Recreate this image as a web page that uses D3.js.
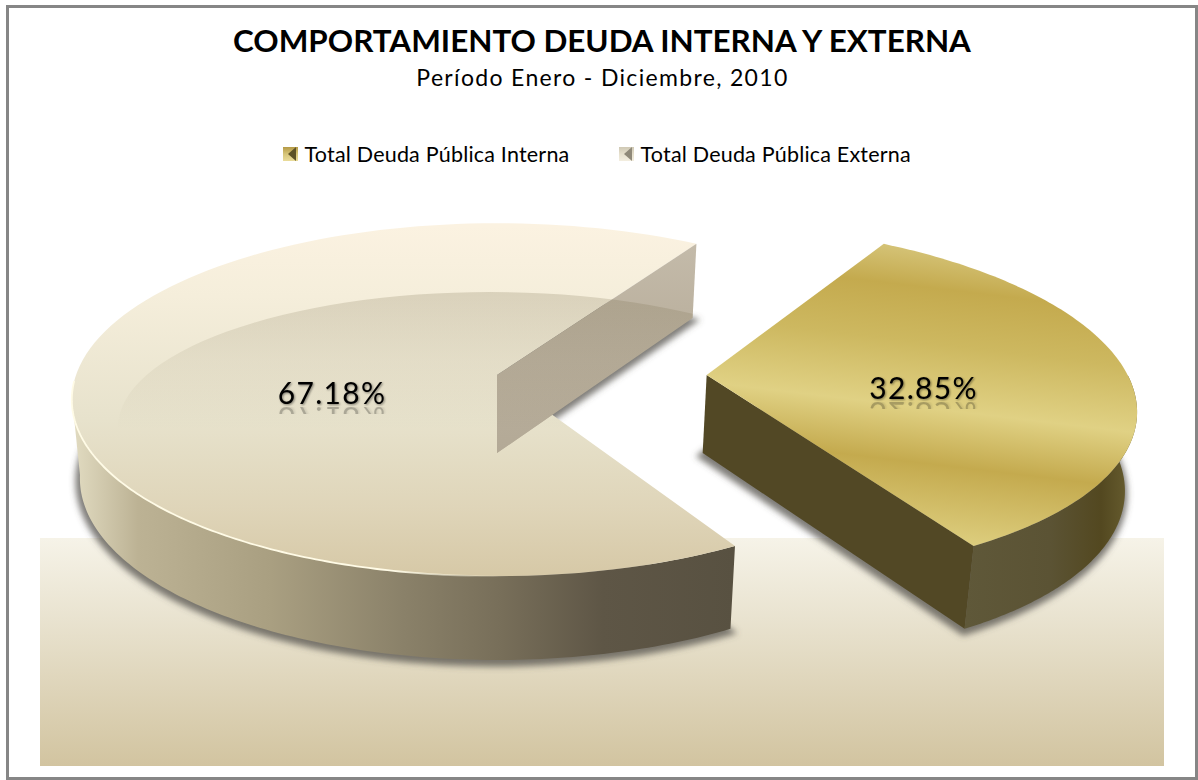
<!DOCTYPE html>
<html>
<head>
<meta charset="utf-8">
<style>
  html, body { margin: 0; padding: 0; background: #fff; }
  svg { display: block; }
  text { font-family: Lato, "Open Sans", sans-serif; fill: #000; }
</style>
<script src="https://cdn.jsdelivr.net/npm/d3@7"></script>
</head>
<body>
<script>
let width = 1198,
    height = 780;

// Chart data
const categories = ['Total Deuda Pública Interna', 'Total Deuda Pública Externa'];
const values = [32.85, 67.18];
const valueLabels = ['32.85%', '67.18%'];
const titleText = 'COMPORTAMIENTO DEUDA INTERNA Y EXTERNA';
const subtitleText = 'Período Enero - Diciembre, 2010';

const deg = Math.PI / 180;

// Pie angles, the internal debt slice starts at 32 deg
const pie = d3.pie().sort(null)
    .startAngle(32 * deg)
    .endAngle(32 * deg + 2 * Math.PI);
const slices = pie(values);
const gold = slices[0],
    big = slices[1];

// The disc is drawn in perspective, top and bottom planes have their own camera values
const topPlane = {cx: 497, cy: 375, r: 421, k: 173, p: 0.14};
const bottomPlane = {cx: 497, cy: 453, r: 413, k: 178, p: 0.14};
const explode = 0.498;

function project(plane, a, e) {
    const z = Math.cos(a),
        w = 1 + plane.p * z;
    return [plane.cx + plane.r * (Math.sin(a) + e) / w, plane.cy - plane.k * z / w];
}

function centre(plane, e) {
    return [plane.cx + plane.r * e, plane.cy];
}

function arcPoints(plane, a0, a1, e) {
    const n = 120;
    return d3.range(n + 1).map(i => project(plane, a0 + (a1 - a0) * i / n, e));
}

const line = d3.line();
const closed = pts => line(pts) + 'Z';

// Where two lines cross, needed for the small inner wall
function crossing(p1, p2, p3, p4) {
    const d = (p1[0] - p2[0]) * (p3[1] - p4[1]) - (p1[1] - p2[1]) * (p3[0] - p4[0]);
    const t = ((p1[0] - p3[0]) * (p3[1] - p4[1]) - (p1[1] - p3[1]) * (p3[0] - p4[0])) / d;
    return [p1[0] + t * (p2[0] - p1[0]), p1[1] + t * (p2[1] - p1[1])];
}

const svg = d3.select('body').append('svg')
    .attr('width', width)
    .attr('height', height);

const defs = svg.append('defs');

function gradient(id, coords, stops) {
    const g = defs.append('linearGradient')
        .attr('id', id)
        .attr('gradientUnits', 'userSpaceOnUse')
        .attr('x1', coords[0]).attr('y1', coords[1])
        .attr('x2', coords[2]).attr('y2', coords[3]);
    stops.forEach(function (s) {
        g.append('stop')
            .attr('offset', s[0])
            .attr('stop-color', s[1])
            .attr('stop-opacity', s.length > 2 ? s[2] : 1);
    });
}

function blur(id, amount) {
    defs.append('filter')
        .attr('id', id)
        .attr('x', '-20%').attr('y', '-20%')
        .attr('width', '140%').attr('height', '140%')
        .append('feGaussianBlur')
        .attr('stdDeviation', amount);
}

blur('blur3', 3);
blur('blurRim', 0.7);

// Soft shadow of the value labels
defs.append('filter')
    .attr('id', 'labelShadow')
    .attr('x', '-10%').attr('y', '-20%')
    .attr('width', '120%').attr('height', '140%')
    .append('feDropShadow')
    .attr('dx', 1).attr('dy', 1)
    .attr('stdDeviation', 1)
    .attr('flood-color', '#000')
    .attr('flood-opacity', 0.45);

gradient('floorFill', [0, 538, 0, 766], [[0, '#f6f3e8'], [0.35, '#e9e3d0'], [1, '#d2c4a0']]);
gradient('bigTop', [0, 226, 0, 578], [[0, '#fbf2e1'], [0.2, '#f5eedb'], [0.55, '#e7e2cc'], [0.8, '#dfd5b9'], [1, '#d6c8a6']]);
gradient('bigGlass', [0, 292, 0, 430], [[0, '#6b5f3c', 0.2], [0.5, '#6b5f3c', 0.08], [1, '#6b5f3c', 0]]);
gradient('bigWall', [72, 0, 735, 0], [[0, '#e2dcc2'], [0.1, '#bcb294'], [0.3, '#a99f81'], [0.5, '#8a8169'], [0.65, '#776e59'], [0.8, '#5e5646'], [1, '#585141']]);
gradient('farWall', [0, 240, 0, 455], [[0, '#c4bbaa'], [0.35, '#bcb2a0'], [1, '#b3a996']]);
gradient('goldTop', [919, 240, 883, 545], [
    [0, '#d8c87f'], [0.15, '#c4aa4e'], [0.33, '#cdb860'], [0.54, '#e0d184'],
    [0.72, '#c4aa4e'], [1, '#e0d284']
]);
gradient('goldWall', [965, 0, 1135, 0], [[0, '#5f5839'], [0.5, '#5b5334'], [0.8, '#534820'], [1, '#6b6132']]);
gradient('swatchGold', [0, 147, 0, 161], [[0, '#b59a45'], [0.5, '#d6c579'], [1, '#eadc9b']]);
gradient('swatchPale', [0, 147, 0, 161], [[0, '#cfc8b4'], [0.5, '#e6e0cd'], [1, '#f3eee0']]);
gradient('rimFade', [72, 0, 500, 0], [[0, '#fffbe6'], [0.75, '#fffbe6'], [1, '#fffbe6', 0]]);

// Frame
svg.append('rect')
    .attr('x', 7.5).attr('y', 6.5)
    .attr('width', width - 9).attr('height', height - 8)
    .attr('fill', '#fff')
    .attr('stroke', '#868686')
    .attr('stroke-width', 3);

// Floor
svg.append('rect')
    .attr('x', 40).attr('y', 538)
    .attr('width', 1124).attr('height', 228)
    .attr('fill', 'url(#floorFill)');

// Titles
svg.append('text')
    .attr('x', 602).attr('y', 51.5)
    .attr('text-anchor', 'middle')
    .attr('font-size', 31.4)
    .attr('font-weight', 700)
    .text(titleText);

svg.append('text')
    .attr('x', 602.5).attr('y', 86)
    .attr('text-anchor', 'middle')
    .attr('font-size', 23)
    .attr('letter-spacing', 1.33)
    .text(subtitleText);

// Legend
const legendX = [283, 619];
const legendFill = ['url(#swatchGold)', 'url(#swatchPale)'];
const legendMark = ['#5d5228', '#8f8979'];

const legend = svg.append('g').selectAll('g')
    .data(categories)
    .enter().append('g')
    .attr('transform', (d, i) => 'translate(' + legendX[i] + ',0)');

legend.append('rect')
    .attr('y', 147)
    .attr('width', 15).attr('height', 14)
    .attr('fill', (d, i) => legendFill[i]);

legend.append('path')
    .attr('d', 'M15,147 L7,154 L15,161 Z')
    .attr('fill', (d, i) => legendMark[i])
    .attr('transform', 'translate(-2,0)');

legend.append('text')
    .attr('x', 21.5).attr('y', 161.5)
    .attr('font-size', 21.5)
    .attr('letter-spacing', 0.2)
    .text(d => d);

// Shadows under both slices
const bigBottom = arcPoints(bottomPlane, big.startAngle, big.endAngle, 0);
const goldBottom = arcPoints(bottomPlane, gold.startAngle, gold.endAngle, explode);

svg.append('g')
    .attr('filter', 'url(#blur3)')
    .selectAll('path')
    .data([
        closed([centre(bottomPlane, 0)].concat(bigBottom)),
        closed([centre(bottomPlane, explode)].concat(goldBottom))
    ])
    .enter().append('path')
    .attr('d', d => d)
    .attr('transform', 'translate(-1,3)')
    .attr('fill', '#55524c')
    .attr('stroke', '#55524c')
    .attr('stroke-width', 7)
    .attr('opacity', 0.75);

// External debt slice
const bigTopArc = arcPoints(topPlane, big.startAngle, big.endAngle, 0);
const frontCorner = bigTopArc[0],
    farCorner = bigTopArc[bigTopArc.length - 1];
const farBottom = bigBottom[bigBottom.length - 1];
const apexTop = centre(topPlane, 0),
    apexBottom = centre(bottomPlane, 0);

svg.append('path')
    .attr('d', closed(arcPoints(topPlane, big.startAngle, 263 * deg, 0)
        .concat(arcPoints(bottomPlane, 263 * deg, big.startAngle, 0))))
    .attr('fill', 'url(#bigWall)');

const bigSurface = closed([apexTop].concat(bigTopArc));
const farWall = closed([apexTop, farCorner, farBottom, apexBottom]);

svg.append('path')
    .attr('d', bigSurface)
    .attr('fill', 'url(#bigTop)');

// The small piece of the other inner wall that shows through the surface
svg.append('path')
    .attr('d', closed([apexTop, apexBottom, crossing(apexTop, frontCorner, apexBottom, farBottom)]))
    .attr('fill', '#b9af9b');

svg.append('path')
    .attr('d', farWall)
    .attr('fill', 'url(#farWall)');

// Glass reflection over the surface and the far wall
const glassClip = defs.append('clipPath').attr('id', 'glassClip');
glassClip.append('path').attr('d', bigSurface);
glassClip.append('path').attr('d', farWall);

svg.append('ellipse')
    .attr('clip-path', 'url(#glassClip)')
    .attr('cx', 490).attr('cy', 427)
    .attr('rx', 372).attr('ry', 135)
    .attr('fill', 'url(#bigGlass)');

// Bright rim on the left and front of the surface
svg.append('path')
    .attr('d', line(arcPoints(topPlane, 178 * deg, 268 * deg, 0)))
    .attr('fill', 'none')
    .attr('stroke', 'url(#rimFade)')
    .attr('stroke-width', 1.8)
    .attr('filter', 'url(#blurRim)');

// Internal debt slice
const goldTopArc = arcPoints(topPlane, gold.startAngle, gold.endAngle, explode);
const goldApexTop = centre(topPlane, explode),
    goldApexBottom = centre(bottomPlane, explode);
const goldFront = goldTopArc[goldTopArc.length - 1],
    goldFrontBottom = goldBottom[goldBottom.length - 1];

svg.append('path')
    .attr('d', closed(arcPoints(topPlane, 90 * deg, gold.endAngle, explode)
        .concat(arcPoints(bottomPlane, gold.endAngle, 90 * deg, explode))))
    .attr('fill', 'url(#goldWall)');

svg.append('path')
    .attr('d', closed([goldApexTop, goldFront, goldFrontBottom, goldApexBottom]))
    .attr('fill', '#524825');

svg.append('path')
    .attr('d', closed([goldApexTop].concat(goldTopArc)))
    .attr('fill', 'url(#goldTop)');

// Value labels, the small mirror image under them is a <use> of the same text
const labelPos = [[923.5, 399], [332, 404]];

defs.append('clipPath').attr('id', 'mirrorClip')
    .append('rect')
    .attr('x', -70).attr('y', -7)
    .attr('width', 140).attr('height', 7);

labelPos.forEach(function (pos, i) {
    svg.append('text')
        .attr('id', 'valueLabel' + i)
        .attr('x', 0).attr('y', 0)
        .attr('transform', 'translate(' + pos[0] + ',' + pos[1] + ')')
        .attr('text-anchor', 'middle')
        .attr('font-size', 30)
        .attr('letter-spacing', 1.3)
        .attr('filter', 'url(#labelShadow)')
        .text(valueLabels[i]);

    svg.append('g')
        .attr('transform', 'translate(' + pos[0] + ',' + (pos[1] + 3) + ') scale(1,-1)')
        .append('g')
        .attr('clip-path', 'url(#mirrorClip)')
        .append('use')
        .attr('href', '#valueLabel' + i)
        .attr('transform', 'translate(' + (-pos[0]) + ',' + (-pos[1]) + ')')
        .attr('opacity', 0.25);
});
</script>
</body>
</html>
